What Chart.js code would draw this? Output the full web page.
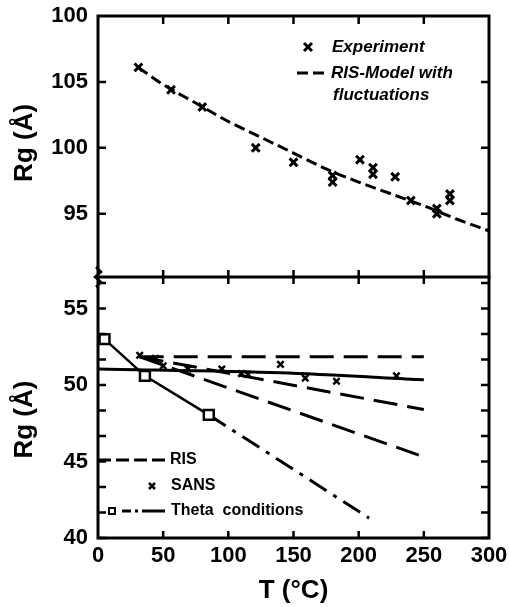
<!DOCTYPE html>
<html><head><meta charset="utf-8">
<script src="https://cdn.jsdelivr.net/npm/chart.js@4.4.1/dist/chart.umd.min.js"></script>
<style>
body{margin:0;background:#fff;width:509px;height:607px;overflow:hidden;position:relative}
canvas{position:absolute;left:0}
#top{top:0;z-index:2}
#bottom{top:270px;z-index:1}
</style></head><body>
<canvas id="top" width="509" height="290"></canvas>
<canvas id="bottom" width="509" height="337"></canvas>
<script>
// upper panel
var expT = [31, 56, 80, 121, 150, 180, 180, 201, 211, 211, 228, 240, 260, 260, 270, 270];
var expRg = [106.1, 104.4, 103.1, 100.0, 98.9, 97.9, 97.4, 99.1, 98.5, 98.0, 97.8, 96.0, 95.4, 95.0, 96.5, 96.0];
var fitT = [31, 50, 75, 100, 125, 150, 175, 200, 225, 250, 275, 300];
var fitRg = [106.1, 104.8, 103.4, 102.0, 100.8, 99.6, 98.4, 97.4, 96.5, 95.6, 94.6, 93.7];
var topTicks = [95, 100, 105, 110];
var topTickLabels = ["95", "100", "105", "100"];

// lower panel
var risT = [32, 250];
var risA = [51.85, 51.85];
var risB = [51.85, 48.4];
var risC = [51.85, 45.3];
var sansT = [32, 44, 50, 69, 95, 110, 115, 140, 159, 183, 229];
var sansRg = [51.95, 51.75, 51.25, 51.05, 51.05, 50.75, 50.7, 51.35, 50.45, 50.25, 50.6];
var sansFitT = [0, 140, 250];
var sansFitRg = [51.05, 50.8, 50.35];
var thetaT = [5, 36, 85];
var thetaRg = [53.0, 50.6, 48.05];
var thetaExtT = [85, 208];
var thetaExtRg = [48.05, 41.3];
var bottomTicks = [40, 45, 50, 55];
var xLabels = [0, 50, 100, 150, 200, 250, 300];
var xTicks = [50, 100, 150, 200, 250];

function pts(xs, ys) {
  return xs.map(function (x, i) { return {x: x, y: ys[i]}; });
}

var tickFont = {family: "'Liberation Sans', Arial, sans-serif", weight: "bold", size: 22};
var titleFont = {family: "'Liberation Sans', Arial, sans-serif", weight: "bold", size: 26};

function frame(opts) {
  return {
    id: "frame",
    afterDraw: function (chart) {
      var c = chart.ctx, a = chart.chartArea, sx = chart.scales.x, sy = chart.scales.y;
      c.save();
      c.strokeStyle = "#000";
      c.lineWidth = 3;
      c.beginPath();
      if (opts.noTop) {
        c.moveTo(a.left, a.top - 4); c.lineTo(a.left, a.bottom); c.lineTo(a.right, a.bottom); c.lineTo(a.right, a.top - 4);
      } else {
        c.rect(a.left, a.top, a.right - a.left, a.bottom - a.top);
      }
      c.stroke();
      c.lineWidth = 2.5;
      c.beginPath();
      opts.yMarks.forEach(function (v) {
        var y = sy.getPixelForValue(v);
        c.moveTo(a.left, y); c.lineTo(a.left + 8, y);
        c.moveTo(a.right, y); c.lineTo(a.right - 8, y);
      });
      xTicks.forEach(function (v) {
        var x = sx.getPixelForValue(v);
        if (opts.topIn) { c.moveTo(x, a.top); c.lineTo(x, a.top + 8); }
        if (opts.bottomBoth) { c.moveTo(x, a.bottom - 7); c.lineTo(x, a.bottom + 7); }
        if (opts.bottomIn) { c.moveTo(x, a.bottom); c.lineTo(x, a.bottom - 7); }
      });
      c.stroke();
      if (opts.legend) opts.legend(c, a);
      c.restore();
    }
  };
}

function baseX(show) {
  return {
    type: "linear", min: 0, max: 300, display: show,
    afterBuildTicks: function (s) { s.ticks = xLabels.map(function (v) { return {value: v}; }); },
    grid: {display: false, drawTicks: false},
    border: {display: false},
    ticks: {font: tickFont, color: "#000", padding: 5, maxRotation: 0},
    title: {display: show, text: "T (°C)", font: titleFont, color: "#000", padding: {top: 0, bottom: 1}},
    afterFit: function (s) {
      s.height = show ? 69 : 0;
      s.paddingLeft = 0; s.paddingRight = 0;
    }
  };
}

function baseY(min, max, ticks, title, cb) {
  return {
    type: "linear", min: min, max: max,
    afterBuildTicks: function (s) { s.ticks = ticks.map(function (v) { return {value: v}; }); },
    grid: {display: false, drawTicks: false},
    border: {display: false},
    ticks: {font: tickFont, color: "#000", padding: 10, callback: cb},
    title: {display: true, text: title, font: titleFont, color: "#000", padding: {top: 9, bottom: 0}},
    afterFit: function (s) {
      s.width = 98;
      s.paddingTop = 0; s.paddingBottom = 0;
    }
  };
}

var legendFontTop = "italic bold 17px 'Liberation Sans', Arial, sans-serif";
var legendFontBottom = "bold 16px 'Liberation Sans', Arial, sans-serif";

new Chart(document.getElementById("top"), {
  type: "scatter",
  data: {
    datasets: [
      {label: "Experiment", data: pts(expT, expRg), pointStyle: "crossRot", radius: 5.5, borderWidth: 3, borderColor: "#000", backgroundColor: "#000"},
      {label: "RIS-Model with fluctuations", data: pts(fitT, fitRg), showLine: true, cubicInterpolationMode: "monotone", borderColor: "#000", borderWidth: 3, borderDash: [11, 5], pointRadius: 0}
    ]
  },
  options: {
    responsive: false, animation: false,
    layout: {padding: {top: 16, right: 20, bottom: 13, left: 0}},
    plugins: {legend: {display: false}, tooltip: {enabled: false}},
    scales: {
      x: baseX(false),
      y: baseY(90.2, 110, topTicks, " Rg (Å)", function (v) { var i = topTicks.indexOf(v); return i < 0 ? "" : topTickLabels[i]; })
    }
  },
  plugins: [frame({
    yMarks: [95, 100, 105], topIn: true, bottomBoth: true,
    legend: function (c, a) {
      c.fillStyle = "#000";
      c.lineWidth = 3;
      c.beginPath();
      c.moveTo(304, 43); c.lineTo(312, 51); c.moveTo(312, 43); c.lineTo(304, 51);
      c.stroke();
      c.setLineDash([11, 5]);
      c.beginPath(); c.moveTo(297, 73); c.lineTo(324, 73); c.stroke();
      c.setLineDash([]);
      c.font = legendFontTop;
      c.textBaseline = "middle";
      c.fillText("Experiment", 332, 47);
      c.fillText("RIS-Model with", 331, 73);
      c.fillText("fluctuations", 333, 95);
      // axis break mark
      var b = a.bottom;
      c.lineWidth = 2.5;
      c.beginPath();
      c.moveTo(a.left - 2, b - 10); c.lineTo(a.left + 3, b - 5); c.lineTo(a.left - 3, b);
      c.lineTo(a.left + 3, b + 5); c.lineTo(a.left - 2, b + 10);
      c.stroke();
    }
  })]
});

var minor = [];
for (var k = 0; k <= 10; k++) minor.push(40 + k * 5 / 3);

new Chart(document.getElementById("bottom"), {
  type: "scatter",
  data: {
    datasets: [
      {label: "Theta conditions", data: pts(thetaT, thetaRg), showLine: true, pointStyle: "rect", radius: 7, borderWidth: 2.5, borderColor: "#000", backgroundColor: "#fff"},
      {label: "SANS", data: pts(sansT, sansRg), pointStyle: "crossRot", radius: 4.5, borderWidth: 2.5, borderColor: "#000"},
      {label: "SANS fit", data: pts(sansFitT, sansFitRg), showLine: true, tension: 0.3, borderColor: "#000", borderWidth: 3, pointRadius: 0},
      {label: "Theta ext", data: pts(thetaExtT, thetaExtRg), showLine: true, borderColor: "#000", borderWidth: 3, borderDash: [20, 8, 4, 8], pointRadius: 0},
      {label: "RIS a", data: pts(risT, risA), showLine: true, borderColor: "#000", borderWidth: 3, borderDash: [24, 10], pointRadius: 0},
      {label: "RIS b", data: pts(risT, risB), showLine: true, borderColor: "#000", borderWidth: 3, borderDash: [24, 10], pointRadius: 0},
      {label: "RIS c", data: pts(risT, risC), showLine: true, borderColor: "#000", borderWidth: 3, borderDash: [24, 10], pointRadius: 0}
    ]
  },
  options: {
    responsive: false, animation: false,
    layout: {padding: {top: 7, right: 20, bottom: 0, left: 0}},
    plugins: {legend: {display: false}, tooltip: {enabled: false}},
    scales: {
      x: baseX(true),
      y: baseY(40, 56.9, bottomTicks, "Rg (Å)   ")
    }
  },
  plugins: [frame({
    yMarks: minor, bottomIn: true, noTop: true,
    legend: function (c, a) {
      c.fillStyle = "#000";
      c.strokeStyle = "#000";
      c.lineWidth = 3;
      c.setLineDash([13, 5]);
      c.beginPath(); c.moveTo(98, 190); c.lineTo(166, 190); c.stroke();
      c.setLineDash([9, 4, 3, 4, 14, 0]);
      c.beginPath(); c.moveTo(122, 241); c.lineTo(166, 241); c.stroke();
      c.setLineDash([]);
      c.lineWidth = 2.5;
      c.beginPath();
      c.moveTo(149, 213); c.lineTo(155, 219); c.moveTo(155, 213); c.lineTo(149, 219);
      c.stroke();
      c.lineWidth = 2;
      c.strokeRect(109, 238, 6, 6);
      c.font = legendFontBottom;
      c.textBaseline = "middle";
      c.fillText("RIS", 170, 190);
      c.fillText("SANS", 171, 216);
      c.fillText("Theta  conditions", 171, 241);
    }
  })]
});
</script>
</body></html>
